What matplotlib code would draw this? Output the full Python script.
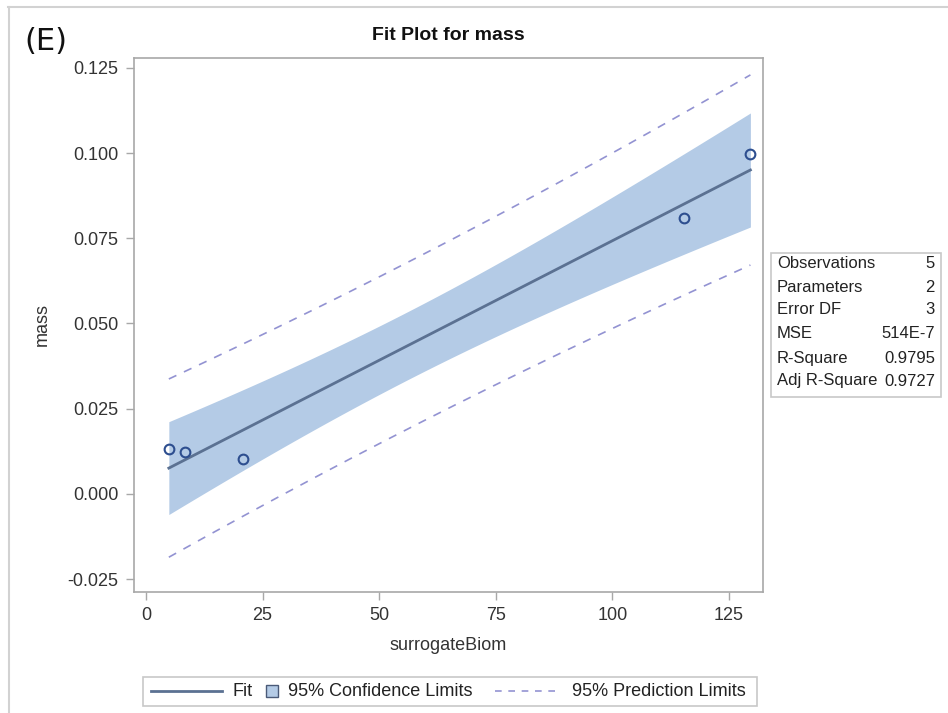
import numpy as np
import matplotlib
matplotlib.use('Agg')
from matplotlib import pyplot as plt
from matplotlib.lines import Line2D
from matplotlib.patches import Rectangle

plt.rcParams['font.family'] = ['Liberation Sans', 'DejaVu Sans']

# observations
surrogate = [4.9, 8.4, 20.9, 115.3, 129.6]
mass = [0.0132, 0.0123, 0.0103, 0.0809, 0.0997]

# fit statistics table
stat_names = ['Observations', 'Parameters', 'Error DF', 'MSE', 'R-Square', 'Adj R-Square']
stat_values = ['5', '2', '3', '514E-7', '0.9795', '0.9727']

x_ticks = [0, 25, 50, 75, 100, 125]
y_ticks = [-0.025, 0.0, 0.025, 0.05, 0.075, 0.1, 0.125]

t_crit = 3.182446  # t(0.975, df=3)

fit_col = '#5b7192'
band_col = '#b4cbe6'
pred_col = '#9393d2'
pt_col = '#2d4e8f'
frame_col = '#a8a8a8'
text_col = '#333333'

W, H = 948.0, 713.0


def fx(px):
    return px / W


def fy(py):
    return 1 - py / H


def linear_fit(x, y):
    x = np.asarray(x, float)
    y = np.asarray(y, float)
    n = len(x)
    b, a = np.polyfit(x, y, 1)
    resid = y - (a + b * x)
    mse = np.sum(resid ** 2) / (n - 2)
    sxx = np.sum((x - x.mean()) ** 2)
    return a, b, mse, sxx, x.mean(), n


def main():
    fig = plt.figure(figsize=(9.48, 7.13), dpi=100)
    ax = fig.add_axes([fx(134), fy(592), (763 - 134) / W, (592 - 58) / H])

    a, b, mse, sxx, xbar, n = linear_fit(surrogate, mass)
    xs = np.linspace(min(surrogate), max(surrogate), 200)
    yhat = a + b * xs
    se_mean = np.sqrt(mse * (1.0 / n + (xs - xbar) ** 2 / sxx))
    se_pred = np.sqrt(mse * (1.0 + 1.0 / n + (xs - xbar) ** 2 / sxx))

    ax.fill_between(xs, yhat - t_crit * se_mean, yhat + t_crit * se_mean,
                    color=band_col, lw=0, zorder=1)
    ax.plot(xs, yhat + t_crit * se_pred, color=pred_col, lw=1.2, dashes=(5, 5), zorder=2)
    ax.plot(xs, yhat - t_crit * se_pred, color=pred_col, lw=1.2, dashes=(5, 5), zorder=2)
    ax.plot(xs, yhat, color=fit_col, lw=2.0, zorder=3)
    ax.plot(surrogate, mass, 'o', ms=7, mfc='none', mec=pt_col, mew=1.5, zorder=4)

    ax.set_xlim(-2.57, 132.3)
    ax.set_ylim(-0.0288, 0.1279)
    ax.set_xticks(x_ticks)
    ax.set_yticks(y_ticks)
    ax.set_xticklabels([str(v) for v in x_ticks])
    ax.set_yticklabels(['%.3f' % v for v in y_ticks])
    ax.tick_params(direction='out', length=6, width=1, color=frame_col,
                   labelsize=13, labelcolor=text_col, pad=5)
    for s in ax.spines.values():
        s.set_color(frame_col)
        s.set_linewidth(1.2)

    ax.set_xlabel('surrogateBiom', fontsize=13, color=text_col, labelpad=9)
    ax.set_ylabel('mass', fontsize=13, color=text_col, labelpad=12)

    fig.text(fx(448.5), fy(36), 'Fit Plot for mass', ha='center', va='center',
             fontsize=14, fontweight='bold', color='#111111')
    fig.text(fx(24), fy(41), '(E)', ha='left', va='center', fontsize=22,
             color='#111111', family='DejaVu Sans')

    # outer frame, left and top edges only
    fig.add_artist(Line2D([fx(8), 1.0], [fy(7), fy(7)], color='#d2d2d2', lw=1.5))
    fig.add_artist(Line2D([fx(9), fx(9)], [fy(7), 0.0], color='#d2d2d2', lw=1.5))

    # statistics inset
    fig.add_artist(Rectangle((fx(771), fy(397)), (941 - 771) / W, (397 - 253) / H,
                             transform=fig.transFigure, fill=False,
                             edgecolor='#c8c8c8', lw=1.2))
    row_y = [264, 287, 310, 334, 358, 381]
    for name, val, yy in zip(stat_names, stat_values, row_y):
        fig.text(fx(777), fy(yy), name, ha='left', va='center', fontsize=12, color='#222222')
        fig.text(fx(935), fy(yy), val, ha='right', va='center', fontsize=12, color='#222222')

    # legend strip under the plot
    ly = fy(691)
    fig.add_artist(Rectangle((fx(143), fy(706)), (757 - 143) / W, (706 - 677) / H,
                             transform=fig.transFigure, facecolor='white',
                             edgecolor='#c8c8c8', lw=1.2))
    fig.add_artist(Line2D([fx(151), fx(222)], [ly, ly], color=fit_col, lw=2.0))
    fig.text(fx(232), ly, 'Fit', ha='left', va='center', fontsize=13, color='#222222')
    fig.add_artist(Rectangle((fx(266), fy(697)), 12 / W, 12 / H,
                             transform=fig.transFigure, facecolor=band_col,
                             edgecolor='#4a5a78', lw=1.0))
    fig.text(fx(288), ly, '95% Confidence Limits', ha='left', va='center',
             fontsize=13, color='#222222')
    fig.add_artist(Line2D([fx(495), fx(557)], [ly, ly], color=pred_col, lw=1.2,
                          dashes=(4, 4)))
    fig.text(fx(572), ly, '95% Prediction Limits', ha='left', va='center',
             fontsize=13, color='#222222')

    fig.savefig('out.png', dpi=100)


if __name__ == '__main__':
    main()
